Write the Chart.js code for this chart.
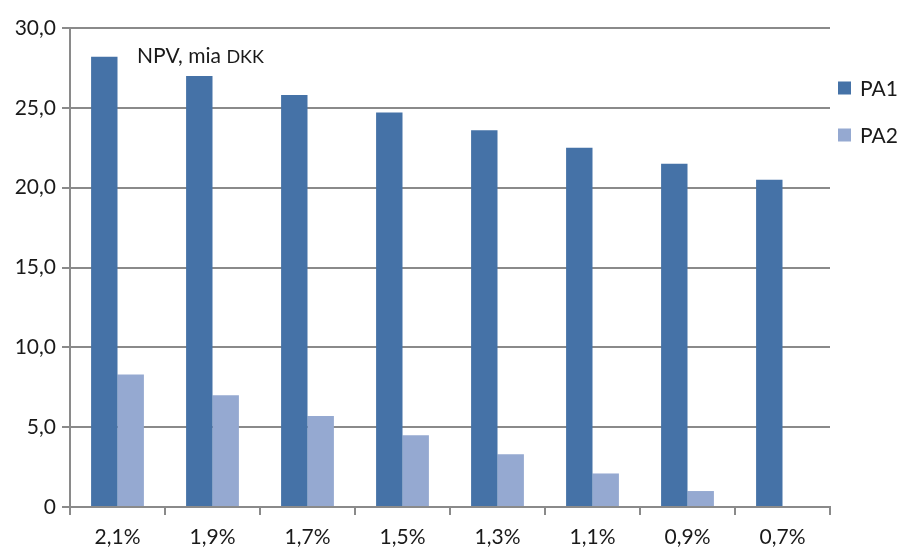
<!DOCTYPE html>
<html>
<head>
<meta charset="utf-8">
<script src="https://cdn.jsdelivr.net/npm/chart.js@4/dist/chart.umd.min.js"></script>
<style>
  html, body { margin: 0; padding: 0; background: #ffffff; }
  canvas { display: block; }
</style>
</head>
<body>
<canvas id="npv" width="902" height="549"></canvas>
<script>
// Discount rates on the category axis
const rates = ['2,1%', '1,9%', '1,7%', '1,5%', '1,3%', '1,1%', '0,9%', '0,7%'];
// Net present value, billion DKK
const pa1 = [28.2, 27.0, 25.8, 24.7, 23.6, 22.5, 21.5, 20.5];
const pa2 = [8.3, 7.0, 5.7, 4.5, 3.3, 2.1, 1.0, 0];
const seriesNames = ['PA1', 'PA2'];
const yTickLabels = ['0', '5,0', '10,0', '15,0', '20,0', '25,0', '30,0'];
const titleMain = 'NPV, mia ';
const titleUnit = 'DKK';

const FONT = 'Lato, "Open Sans", sans-serif';
const TEXT = '#1a1a1a';
const GRID = '#8a8a8a';
const COLORS = ['#4572a7', '#95a9d1'];

// Unit caption inside the plot area, top left
const captionPlugin = {
  id: 'caption',
  afterDraw(chart) {
    const { ctx, chartArea } = chart;
    ctx.save();
    ctx.fillStyle = TEXT;
    ctx.textBaseline = 'alphabetic';
    ctx.textAlign = 'left';
    const x = chartArea.left + 67;
    const y = chartArea.top + 35;
    ctx.font = '21px ' + FONT;
    ctx.fillText(titleMain, x, y);
    const w = ctx.measureText(titleMain).width;
    ctx.font = '18px ' + FONT;
    ctx.fillText(titleUnit, x + w, y);
    ctx.restore();
  }
};

// Legend stacked to the right of the plot
const sideLegendPlugin = {
  id: 'sideLegend',
  afterDraw(chart) {
    const { ctx, chartArea } = chart;
    ctx.save();
    ctx.font = '21px ' + FONT;
    ctx.textBaseline = 'middle';
    ctx.textAlign = 'left';
    chart.data.datasets.forEach((ds, i) => {
      const cy = chartArea.top + 60 + i * 47;
      const x = chartArea.right + 8;
      ctx.fillStyle = ds.backgroundColor;
      ctx.fillRect(x, cy - 6.5, 13, 13);
      ctx.fillStyle = TEXT;
      ctx.fillText(ds.label, x + 22, cy + 1);
    });
    ctx.restore();
  }
};

new Chart(document.getElementById('npv'), {
  type: 'bar',
  data: {
    labels: rates,
    datasets: [
      { label: seriesNames[0], data: pa1, backgroundColor: COLORS[0] },
      { label: seriesNames[1], data: pa2, backgroundColor: COLORS[1] }
    ]
  },
  options: {
    responsive: false,
    devicePixelRatio: 1,
    animation: false,
    layout: { padding: { top: 28, right: 72, left: 0, bottom: 0 } },
    datasets: {
      bar: { barPercentage: 1, categoryPercentage: 0.556, borderWidth: 0 }
    },
    plugins: {
      legend: { display: false },
      tooltip: { enabled: false }
    },
    scales: {
      x: {
        grid: {
          display: true,
          drawOnChartArea: false,
          drawTicks: true,
          tickLength: 8,
          offset: true,
          color: GRID,
          lineWidth: 2
        },
        border: { display: true, color: GRID, width: 2 },
        ticks: {
          font: { family: FONT, size: 21 },
          color: TEXT,
          padding: 10,
          maxRotation: 0,
          autoSkip: false
        },
        afterFit(scale) { scale.height = 42; }
      },
      y: {
        min: 0,
        max: 30,
        grid: {
          color: GRID,
          lineWidth: 2,
          drawTicks: true,
          tickLength: 8
        },
        border: { display: true, color: GRID, width: 2 },
        ticks: {
          stepSize: 5,
          font: { family: FONT, size: 21 },
          color: TEXT,
          padding: 6,
          callback: (value) => yTickLabels[Math.round(value / 5)]
        },
        afterFit(scale) { scale.width = 70; }
      }
    }
  },
  plugins: [captionPlugin, sideLegendPlugin]
});
</script>
</body>
</html>
